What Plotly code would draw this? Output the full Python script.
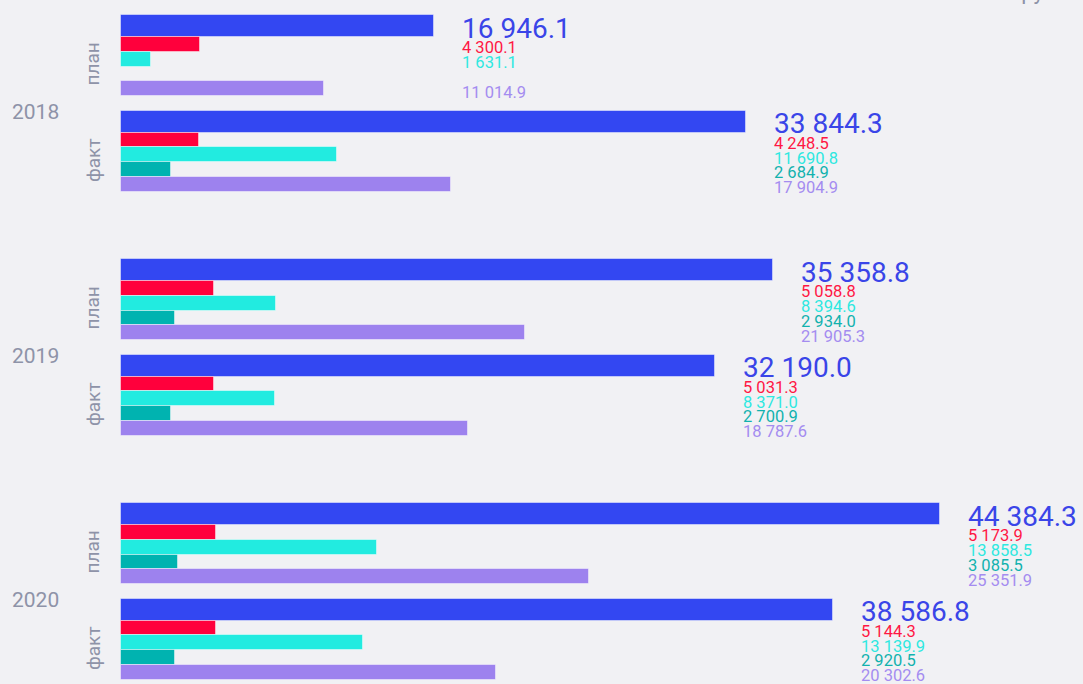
import plotly.graph_objects as go

# ---------------- data ----------------
years = ["2018", "2019", "2020"]
kinds = ["план", "факт"]
total = [[16946.1, 33844.3], [35358.8, 32190.0], [44384.3, 38586.8]]
part_red = [[4300.1, 4248.5], [5058.8, 5031.3], [5173.9, 5144.3]]
part_cyan = [[1631.1, 11690.8], [8394.6, 8371.0], [13858.5, 13139.9]]
part_teal = [[None, 2684.9], [2934.0, 2700.9], [3085.5, 2920.5]]
part_purple = [[11014.9, 17904.9], [21905.3, 18787.6], [25351.9, 20302.6]]

series = [total, part_red, part_cyan, part_teal, part_purple]
bar_colors = ["#3347f2", "#ff003c", "#22ebe0", "#00b3b0", "#9d82ee"]
text_colors = ["#3a45e8", "#ff1744", "#2ee8e0", "#12b2ae", "#a48cf0"]

# ---------------- layout constants (pixels) ----------------
W, H = 1083, 684
X0_PX = 121            # pixel where value 0 sits
PX_PER_UNIT = 819 / 44384.3
TOP = 15
YEAR_STEP = 244
SUB_STEP = 95.5
BH = 14.73             # thin bar height
BLUE_H = 22.1          # total bar height
LABEL_GAP = 27


def fmt(v):
    return f"{v:,.1f}".replace(",", " ")


def bar_center(i, j, k):
    base = TOP + i * YEAR_STEP + j * SUB_STEP
    if k == 0:
        return base + BLUE_H / 2
    return base + BLUE_H + BH * (k - 0.5)


fig = go.Figure()
for k, data in enumerate(series):
    ys, xs = [], []
    for i in range(len(years)):
        for j in range(len(kinds)):
            ys.append(bar_center(i, j, k))
            xs.append(data[i][j])
    fig.add_trace(go.Bar(
        orientation="h", x=xs, y=ys,
        width=BLUE_H if k == 0 else BH,
        marker=dict(color=bar_colors[k],
                    line=dict(color="rgba(255,255,255,0.45)", width=1)),
        showlegend=False, hoverinfo="x",
    ))

annotations = []
FONT = "Roboto, Arial, sans-serif"
for i, yr in enumerate(years):
    for j, kd in enumerate(kinds):
        lx = total[i][j] + LABEL_GAP / PX_PER_UNIT
        for k, data in enumerate(series):
            v = data[i][j]
            if v is None:
                continue
            yc = bar_center(i, j, k)
            annotations.append(dict(
                x=lx, y=yc + (2 if k == 0 else 3.5), xref="x", yref="y",
                text=fmt(v), showarrow=False, xanchor="left", yanchor="middle",
                borderpad=0,
                font=dict(family=FONT, size=28 if k == 0 else 16.5,
                          color=text_colors[k]),
            ))
        gc = TOP + i * YEAR_STEP + j * SUB_STEP + (BLUE_H + 4 * BH) / 2
        annotations.append(dict(
            x=-28 / PX_PER_UNIT, y=gc + 9, xref="x", yref="y", text=kd,
            textangle=-90, showarrow=False, xanchor="center", yanchor="middle",
            font=dict(family=FONT, size=19, color="#8e93a8"),
        ))
    boundary = TOP + i * YEAR_STEP + (BLUE_H + 4 * BH) + (SUB_STEP - BLUE_H - 4 * BH) / 2
    annotations.append(dict(
        x=-111 / PX_PER_UNIT, y=boundary + 9, xref="x", yref="y", text=yr,
        showarrow=False, xanchor="left", yanchor="middle",
        font=dict(family=FONT, size=21, color="#8e93a8"),
    ))

annotations.append(dict(
    x=1064 / W, y=1 - 6 / H, xref="paper", yref="paper", text="млн руб.",
    showarrow=False, xanchor="right", yanchor="bottom",
    font=dict(family=FONT, size=22, color="#8e93a8"),
))

fig.update_layout(
    width=W, height=H,
    margin=dict(l=0, r=0, t=0, b=0),
    paper_bgcolor="#f1f1f4", plot_bgcolor="rgba(0,0,0,0)",
    barmode="overlay", bargap=0,
    xaxis=dict(range=[-X0_PX / PX_PER_UNIT, (W - X0_PX) / PX_PER_UNIT],
               visible=False, fixedrange=True),
    yaxis=dict(range=[H, 0], visible=False, fixedrange=True),
    annotations=annotations,
)

fig.write_html(
    "out.html",
    config={"displayModeBar": False},
    post_script="document.body.style.margin='0';"
                "document.body.style.background='#f1f1f4';"
                "document.body.style.overflow='hidden';",
)
